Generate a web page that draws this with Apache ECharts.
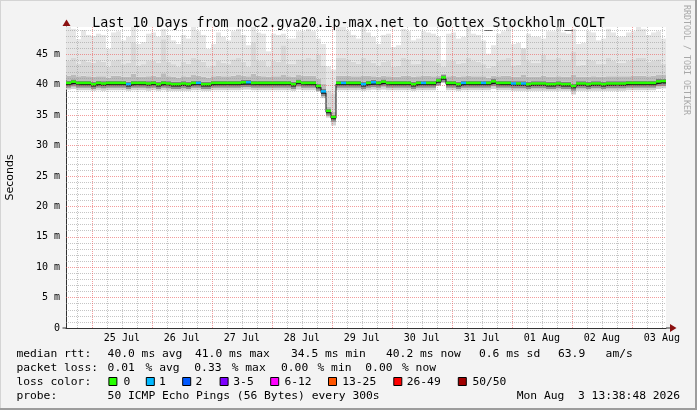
<!DOCTYPE html>
<html><head><meta charset="utf-8">
<script src="https://cdn.jsdelivr.net/npm/echarts@6/dist/echarts.min.js"></script>
<style>html,body{margin:0;padding:0;background:#f3f3f3}#c{width:697px;height:410px}</style>
</head><body><div id="c"></div><script>
// ---- time structure (hours since 24 Jul 00:00) ----
const START_HOUR = 13.6467;   // Jul 24 13:38:48
const STEP_HOURS = 2;
const SPAN_HOURS = 240;

// ---- tick labels ----
const dayLabels = ['25 Jul','26 Jul','27 Jul','28 Jul','29 Jul','30 Jul','31 Jul','01 Aug','02 Aug','03 Aug'];
const dayLabelHours = [36,60,84,108,132,156,180,204,228,252];
const midnightHours = [24,48,72,96,120,144,168,192,216,240];
const yTickValues = [0,5,10,15,20,25,30,35,40,45];

// ---- series values (ms), one value per 2-hour step ----
const median = [
 40.1,40.3,40.1,40.1,40.1,39.9,40.1,40.0,40.1,40.1,
 40.1,40.1,39.9,40.1,40.1,40.1,40.0,40.1,39.9,40.1,
 40.0,39.9,39.9,40.0,39.9,40.1,40.1,39.9,39.9,40.1,
 40.1,40.1,40.1,40.1,40.1,40.2,40.2,40.1,40.1,40.1,
 40.1,40.1,40.1,40.1,40.1,39.9,40.3,40.1,40.1,40.1,
 39.6,38.7,35.5,34.5,40.1,40.1,40.1,40.1,40.1,39.9,
 40.1,40.2,40.1,40.3,40.1,40.1,40.1,40.1,40.1,39.9,
 40.1,40.1,40.1,40.1,40.5,41.0,40.1,40.1,39.9,40.1,
 40.1,40.1,40.1,40.1,40.1,40.35,40.1,40.1,40.1,40.0,
 40.0,40.0,39.9,40.0,40.0,40.0,39.9,39.9,40.0,39.9,
 39.9,39.6,40.0,40.0,39.9,40.0,40.0,39.9,40.0,40.0,
 40.0,40.0,40.1,40.1,40.1,40.1,40.1,40.1,40.35,40.4];
const lowRtt = [
 39.2,39.3,39.1,39.1,39.1,39.0,39.1,39.0,39.1,39.1,
 39.1,39.1,39.0,39.1,39.1,39.1,39.0,39.1,39.0,39.1,
 39.0,39.0,39.0,39.0,39.0,39.1,39.1,39.0,39.0,39.1,
 39.1,39.1,39.1,39.1,39.1,39.2,39.2,39.1,39.1,39.1,
 39.1,39.1,39.1,39.1,39.1,39.0,39.2,39.1,39.1,39.1,
 38.9,37.8,34.6,33.3,39.1,39.1,39.1,39.1,39.1,39.0,
 39.1,39.2,39.1,39.2,39.1,39.1,39.1,39.1,39.1,39.0,
 39.1,39.1,39.1,39.1,39.8,40.3,39.1,39.1,39.0,39.1,
 39.1,39.1,39.1,39.1,39.1,39.3,39.1,39.1,39.1,39.0,
 39.0,39.0,39.0,39.0,39.0,39.0,39.0,39.0,39.0,39.0,
 39.0,38.4,39.0,39.0,39.0,39.0,39.0,39.0,39.0,39.0,
 39.0,39.0,39.1,39.1,39.1,39.1,39.1,39.1,39.3,39.4];
const q75Rtt = [
 41.5,41.7,41.4,41.5,41.4,41.3,41.4,41.4,41.2,41.5,
 41.5,41.3,41.3,41.8,41.3,41.3,41.4,41.5,41.3,41.9,
 41.4,41.3,41.2,41.4,41.3,41.6,41.5,41.3,41.2,41.4,
 41.5,41.4,41.4,41.5,41.6,41.5,41.4,41.8,41.5,41.4,
 41.3,41.4,41.4,41.7,41.4,41.3,41.6,41.5,41.5,41.5,
 41.0,40.2,36.4,35.6,41.5,41.5,41.5,41.4,41.4,41.5,
 41.5,41.4,41.3,41.5,41.4,41.3,41.3,41.5,41.5,41.3,
 41.4,41.5,41.5,41.4,41.5,41.8,41.4,41.5,41.3,41.4,
 41.5,41.4,41.4,41.4,41.2,41.5,41.4,41.5,41.5,41.3,
 41.3,41.7,41.3,41.3,41.3,41.5,41.3,41.3,41.4,41.3,
 41.3,41.6,41.3,41.3,41.3,41.4,41.3,41.3,41.4,41.4,
 41.4,41.4,41.4,41.5,41.5,41.5,41.4,41.5,41.6,41.6];
const q90Rtt = [
 44.0,44.5,43.5,44.2,43.8,43.6,43.9,43.8,43.0,44.0,
 44.2,43.4,43.6,47.0,43.2,43.4,43.9,44.0,43.6,47.5,
 43.8,43.4,43.0,43.8,43.5,44.5,44.2,43.8,42.9,43.2,
 44.0,43.6,43.4,44.2,44.4,43.8,43.0,47.0,44.0,43.9,
 43.0,43.9,43.8,46.5,43.5,43.5,44.2,44.2,44.4,44.2,
 45.0,43.2,39.0,38.5,44.5,44.5,44.2,43.8,43.5,44.5,
 44.0,43.6,43.2,43.8,43.9,43.0,43.1,44.4,44.2,43.4,
 43.5,44.2,44.0,43.9,43.6,43.0,43.9,44.0,43.5,43.6,
 44.5,43.9,43.8,43.4,42.8,43.1,43.9,44.2,44.5,43.2,
 43.3,46.0,43.9,43.6,43.6,45.0,44.2,44.2,44.5,44.0,
 43.9,45.5,43.2,43.3,44.2,44.0,43.4,43.5,44.4,44.0,
 43.6,43.6,44.0,44.2,44.5,44.4,43.8,44.0,44.2,43.5];
const maxRtt = [
 49.5,49.2,47.5,49.0,48.2,48.0,48.4,48.2,45.9,48.6,
 48.8,47.3,47.9,49.5,46.7,47.0,48.4,48.6,47.9,49.2,
 48.2,47.3,46.7,48.2,47.6,49.5,48.8,48.2,45.9,46.7,
 48.6,47.9,47.3,48.8,49.2,48.2,46.5,49.5,48.6,48.4,
 45.5,48.4,48.2,48.4,47.6,47.6,48.8,48.8,49.2,48.8,
 47.6,46.7,43.0,42.5,49.5,49.5,48.8,48.2,47.6,49.5,
 48.6,47.9,46.7,48.2,48.4,46.2,46.5,49.2,48.8,47.3,
 47.6,48.8,48.6,48.4,47.9,44.0,48.4,48.6,47.6,47.9,
 49.5,48.4,48.2,47.3,45.1,46.5,48.4,48.8,49.5,46.7,
 46.9,45.5,48.4,47.9,47.9,47.6,48.8,48.8,49.5,48.6,
 48.4,49.2,46.7,46.9,48.8,48.6,47.3,47.6,49.2,48.6,
 47.9,47.9,48.6,48.8,49.5,49.2,48.2,48.6,48.8,47.6];
// loss bucket index per step (0 = no loss, 1 = 1 lost ping, ...)
const lossBucket = [
 0,0,0,0,0,0,0,0,0,0,
 0,0,1,0,0,0,0,0,0,0,
 0,0,0,0,0,0,1,0,0,0,
 0,0,0,0,0,0,1,0,0,0,
 0,0,0,0,0,0,0,0,0,0,
 0,1,0,0,0,1,0,0,0,1,
 0,1,0,0,0,0,0,0,0,0,
 0,1,0,0,0,0,0,0,0,1,
 0,0,0,1,0,0,0,0,0,1,
 0,1,0,0,0,0,0,0,0,0,
 0,0,0,0,0,0,0,0,0,0,
 0,0,0,0,0,0,0,0,0,0];

// ---- legend ----
const lossLabels = ['0','1','2','3-5','6-12','13-25','26-49','50/50'];
const lossColors = ['#26ff00','#00b8ff','#0059ff','#7e00ff','#ff00ff','#ff5500','#ff0000','#a10000'];

// ---- helpers ----
const N = median.length;
const tAt = i => START_HOUR + i * STEP_HOURS;
function stepPairs(vals){
  const out = vals.map((v,i)=>[tAt(i), v]);
  out.push([tAt(vals.length), vals[vals.length-1]]);
  return out;
}
// smoke bands: [lower, upper] boundaries per step, from bottom to top
const smokeColors = ['#d2d2d2','#909090','#3a3a3a','#808080','#bbbbbb','#d8d8d8','#e6e6e6'];
const smokeData = [];
for (let i = 0; i < N; i++) {
  const b = [lowRtt[i], median[i]-0.6, median[i]-0.25, median[i]+0.25, median[i]+0.6, q75Rtt[i], q90Rtt[i], maxRtt[i]];
  for (let k = 0; k < 7; k++) {
    const lo = b[k], hi = Math.max(b[k], b[k+1]);
    if (hi > lo) smokeData.push([tAt(i), tAt(i+1), lo, hi, k]);
  }
}
const series = [];
series.push({
  type:'custom', z:2, silent:true, animation:false, clip:true,
  encode:{x:[0,1], y:[2,3]},
  data: smokeData,
  renderItem:(params, api)=>{
    const pA = api.coord([api.value(0), api.value(3)]);
    const pB = api.coord([api.value(1), api.value(2)]);
    return {type:'rect', shape:{x:pA[0], y:pA[1], width:pB[0]-pA[0], height:pB[1]-pA[1]},
      style:{fill: smokeColors[api.value(4)]}};
  }
});

// grid lines (drawn on top of smoke, like rrdtool)
const minorV = [], minorH = [], majorH = [];
for (let h = 18; h < START_HOUR + SPAN_HOURS; h += 6) if (h % 24 !== 0) minorV.push(h);
for (let v = 1; v < 50; v++) if (v % 5 !== 0) minorH.push(v);
for (let v = 5; v <= 45; v += 5) majorH.push(v);
series.push({
  type:'line', data:[[START_HOUR,0]], symbol:'none', z:3, silent:true, animation:false,
  lineStyle:{opacity:0},
  markLine:{silent:true, symbol:['none','none'], animation:false, label:{show:false},
    lineStyle:{color:'rgba(150,150,150,0.55)', type:[1,1], width:1},
    emphasis:{disabled:true},
    data: minorV.map(h=>({xAxis:h})).concat(minorH.map(v=>({yAxis:v})))}
});
series.push({
  type:'line', data:[[START_HOUR,0]], symbol:'none', z:3, silent:true, animation:false,
  lineStyle:{opacity:0},
  markLine:{silent:true, symbol:['none','none'], animation:false, label:{show:false},
    lineStyle:{color:'rgba(235,90,90,0.6)', type:[1,1], width:1},
    emphasis:{disabled:true},
    data: midnightHours.map(h=>({xAxis:h})).concat(majorH.map(v=>({yAxis:v})))}
});
// median black step line
series.push({
  type:'line', step:'end', symbol:'none', z:4, silent:true, animation:false,
  lineStyle:{color:'#111', width:1}, data: stepPairs(median)
});
// loss-coloured median segments
series.push({
  type:'custom', z:5, silent:true, animation:false,
  encode:{x:[0,1], y:2},
  data: median.map((m,i)=>[tAt(i), tAt(i+1), m, lossBucket[i]]),
  renderItem:(params, api)=>{
    const p0 = api.coord([api.value(0), api.value(2)]);
    const p1 = api.coord([api.value(1), api.value(2)]);
    return {type:'rect', shape:{x:p0[0], y:p0[1]-2.5, width:p1[0]-p0[0], height:2.5},
      style:{fill: lossColors[api.value(3)]}};
  }
});

const MONO = '"DejaVu Sans Mono", monospace';
const txt = (x,y,text,extra)=>Object.assign({type:'text', x, y, z:50, silent:true,
  style:Object.assign({text, font:'11.3px '+MONO, fill:'#000', textAlign:'left', textVerticalAlign:'middle', align:'left', verticalAlign:'middle'}, extra||{})});

const R1 = 354.3, R2 = 368.3, R3 = 381.7, R4 = 396.3;
const graphic = [
  {type:'rect', shape:{x:0,y:0,width:697,height:1}, style:{fill:'#d4d4d4'}, silent:true},
  {type:'rect', shape:{x:0,y:0,width:1,height:410}, style:{fill:'#d4d4d4'}, silent:true},
  {type:'rect', shape:{x:695,y:0,width:2,height:410}, style:{fill:'#9c9c9c'}, silent:true},
  {type:'rect', shape:{x:0,y:408,width:697,height:2}, style:{fill:'#9c9c9c'}, silent:true},
  {type:'polygon', shape:{points:[[62.5,26],[70.5,26],[66.5,19.5]]}, style:{fill:'#8b1010'}, z:60, silent:true},
  {type:'rect', shape:{x:62.5,y:327.5,width:4,height:1}, style:{fill:'#333'}, silent:true},
  {type:'rect', shape:{x:666,y:327.5,width:5,height:1}, style:{fill:'#333'}, silent:true},
  {type:'polygon', shape:{points:[[670,324],[670,332],[676.5,328]]}, style:{fill:'#8b1010'}, z:60, silent:true},
  {type:'text', x:686.5, y:5, rotation:-Math.PI/2, silent:true,
   style:{text:'RRDTOOL / TOBI OETIKER', font:'8.3px '+MONO, fill:'#a8a8a8', textAlign:'left', textVerticalAlign:'middle', align:'left', verticalAlign:'middle'}},
  txt(16.4,R1,'median rtt:'), txt(107.6,R1,'40.0 ms avg'), txt(195,R1,'41.0 ms max'),
  txt(291,R1,'34.5 ms min'), txt(386,R1,'40.2 ms now'), txt(479,R1,'0.6 ms sd'),
  txt(558,R1,'63.9   am/s'),
  txt(16.4,R2,'packet loss:'),
  txt(107.6,R2,'0.01'), txt(145.6,R2,'% avg'),
  txt(194.3,R2,'0.33'), txt(231.7,R2,'% max'),
  txt(281,R2,'0.00'), txt(317.5,R2,'% min'),
  txt(365.3,R2,'0.00'), txt(402,R2,'% now'),
  txt(16.4,R3,'loss color:'),
  txt(16.4,R4,'probe:'), txt(107.6,R4,'50 ICMP Echo Pings (56 Bytes) every 300s'),
  txt(680,R4,'Mon Aug  3 13:38:48 2026',{textAlign:'right', align:'right'})
];
const sqX = [108.4,145.8,182.2,219.6,270.2,328,393.3,457.8];
const lblX = [123.6,159,195.6,233.3,284.4,342.2,406.7,472.4];
lossLabels.forEach((l,i)=>{
  graphic.push({type:'rect', z:50, silent:true, shape:{x:sqX[i]+0.5,y:377.5,width:8,height:8}, style:{fill:lossColors[i], stroke:'#000', lineWidth:1}});
  graphic.push(txt(lblX[i],R3,l));
});

const chart = echarts.init(document.getElementById('c'), null, {renderer:'canvas'});
chart.setOption({
  animation:false,
  backgroundColor:'#f3f3f3',
  title:{text:'Last 10 Days from noc2.gva20.ip-max.net to Gottex_Stockholm_COLT', left:'center', top:12,
    textStyle:{fontFamily:MONO, fontSize:13.3, fontWeight:'normal', color:'#000'}},
  grid:{left:66, right:31, top:27, bottom:82, show:true, backgroundColor:'#ffffff', borderWidth:0,
    containLabel:false, outerBoundsMode:'none'},
  xAxis:{type:'value', min:START_HOUR, max:START_HOUR+SPAN_HOURS,
    axisLine:{show:true, lineStyle:{color:'#333', width:1}}, axisTick:{show:false}, splitLine:{show:false},
    axisLabel:{customValues:dayLabelHours, color:'#000', fontFamily:MONO, fontSize:10, margin:5,
      formatter:v=>{const k=dayLabelHours.indexOf(Math.round(v)); return k>=0?dayLabels[k]:'';}}},
  yAxis:{type:'value', min:0, max:49.5, interval:5,
    name:'Seconds', nameLocation:'middle', nameGap:50, nameRotate:90,
    nameTextStyle:{fontFamily:'"DejaVu Sans", sans-serif', fontSize:11, color:'#000'},
    axisLine:{show:true, lineStyle:{color:'#333', width:1}}, axisTick:{show:false}, splitLine:{show:false},
    axisLabel:{customValues:yTickValues, color:'#000', fontFamily:MONO, fontSize:10, margin:6,
      formatter:v=> v===0 ? '0' : (v+' m')}},
  graphic: graphic,
  series: series
});
</script></body></html>
